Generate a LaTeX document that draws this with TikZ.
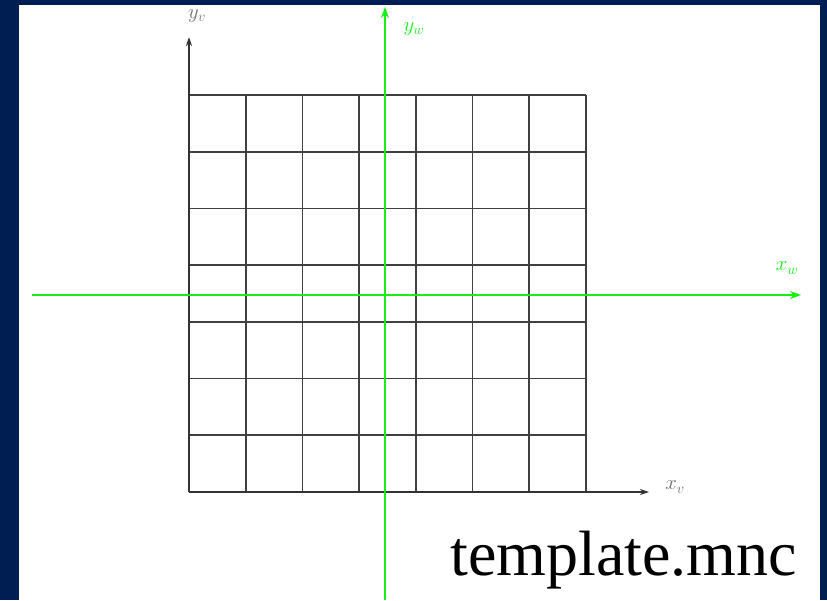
\documentclass[tikz,border=0pt]{standalone}
\usepackage{fontspec}
\usepackage{tikz}
\usetikzlibrary{positioning,arrows.meta,calc}
\newfontfamily\capfont{Liberation Serif}
\definecolor{slideBg}{RGB}{0,30,82}
\definecolor{colW}{RGB}{20,240,20}
\begin{document}
\begin{tikzpicture}[
  x=1pt, y=-1pt,
  gridln/.style={line width=1.8pt, black!75},
  vax/.style={-{Stealth[length=9pt,width=6pt]}, line width=1.9pt, black!80},
  wax/.style={-{Stealth[length=11pt,width=8pt]}, line width=2.8pt, colW},
  vlab/.style={font=\fontsize{20}{20}\selectfont, text=black!55, inner sep=1pt},
  wlab/.style={font=\fontsize{20}{20}\selectfont, text=colW, inner sep=1pt}
]
% Frame
\fill[slideBg] (0,0) rectangle (827,600);
\fill[white] (19,5) rectangle (820,600);
\useasboundingbox (0,0) rectangle (827,600);

% Grid
\foreach \i in {1,...,7} {
  \draw[gridln] ({189+\i*56.7},95) -- ({189+\i*56.7},492);
}
\foreach \j in {0,...,6} {
  \draw[gridln] (189,{95+\j*56.7}) -- (586,{95+\j*56.7});
}

% v axes
\coordinate (o) at (189,492);
\coordinate (vy) at (189,37);
\coordinate (vx) at (649,492);
\draw[vax] (o) -- (vy);
\draw[vax] (o) -- (vx);
\node[vlab] (lyv) at (197,16) {$y_v$};
\node[vlab] (lxv) at (675,487) {$x_v$};

% w axes
\coordinate (wb) at (385,600);
\coordinate (wt) at (385,7);
\coordinate (wl) at (32,295);
\coordinate (wr) at (801,295);
\draw[wax] (wb) -- (wt);
\draw[wax] (wl) -- (wr);
\node[wlab] (lyw) at (414,29) {$y_w$};
\node[wlab] (lxw) at (787,268) {$x_w$};

% Caption
\node[font=\capfont\fontsize{64}{64}\selectfont, anchor=base east, inner sep=0pt]
  (cap) at (797,575) {template.mnc};
\end{tikzpicture}
\end{document}
